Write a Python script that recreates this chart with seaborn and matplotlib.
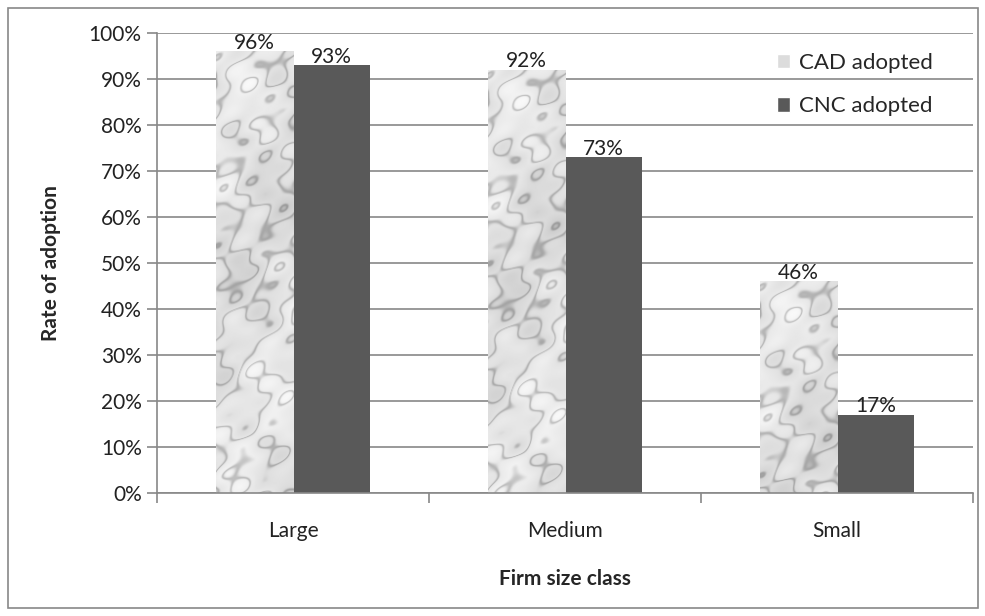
import numpy as np
import pandas as pd
import matplotlib
matplotlib.use("Agg")
import matplotlib.pyplot as plt
import seaborn as sns
from matplotlib.patches import Rectangle

# data
sizes = ["Large", "Medium", "Small"]
cad = [96, 92, 46]
cnc = [93, 73, 17]
series = ["CAD adopted", "CNC adopted"]

df = pd.DataFrame({
    "size": sizes * 2,
    "rate": cad + cnc,
    "series": [series[0]] * 3 + [series[1]] * 3,
})

sns.set_theme(style="white")
plt.rcParams["font.family"] = ["Lato", "DejaVu Sans"]
FS = 15

fig = plt.figure(figsize=(9.85, 6.16), dpi=100)
ax = fig.add_axes([157 / 985, 1 - 493 / 616, (973 - 157) / 985, (493 - 33) / 616])

sns.barplot(data=df, x="size", y="rate", hue="series",
            palette=["#e2e2e2", "#595959"], width=0.567, saturation=1,
            edgecolor="none", ax=ax, legend=False)

# soft marble texture for the CAD bars (decoration only)
yy, xx = np.mgrid[0:460, 0:80] / 40.0
cloud = (np.sin(xx * 1.3 + yy * 0.7) + 0.7 * np.sin(xx * 2.9 - yy * 1.9 + 1.0)
         + 0.5 * np.sin(xx * 4.7 + yy * 3.3 + 2.0) + 0.4 * np.sin(yy * 6.1 - xx * 3.7)
         + 0.3 * np.sin(xx * 8.3 + yy * 7.1 + 0.5) + 0.25 * np.sin(yy * 11.3 + xx * 5.9))
vein = np.exp(-14 * np.sin(yy * 1.4 + xx * 1.6 + 1.8 * cloud) ** 2)
marble = 0.89 + 0.03 * cloud - 0.2 * vein
for p in ax.patches[:3]:
    x0, w, h = p.get_x(), p.get_width(), p.get_height()
    im = ax.imshow(marble[:int(h * 4.6) + 2], cmap="gray", vmin=0, vmax=1, aspect="auto",
                   extent=[x0, x0 + w, 0, h], interpolation="bilinear", zorder=2)
    im.set_clip_path(p)

for c in ax.containers:
    ax.bar_label(c, labels=[f"{v:.0f}%" for v in c.datavalues], fontsize=FS,
                 padding=-1, color="#222222")

ax.set_xlim(-0.5, 2.5)
ax.set_ylim(0, 100)
ax.set_yticks(range(0, 101, 10))
ax.set_yticklabels([f"{v}%" for v in range(0, 101, 10)], fontsize=FS, color="#222222")
ax.tick_params(axis="x", labelsize=FS, labelcolor="#222222", length=0, pad=20)
ax.set_xticks([-0.5, 0.5, 1.5, 2.5], minor=True)
ax.tick_params(axis="x", which="minor", length=7, direction="out", color="#888888",
               width=1.2, bottom=True)
ax.tick_params(axis="y", length=7, direction="out", color="#888888", width=1.2,
               left=True, pad=4)
ax.grid(axis="y", color="#888888", linewidth=1.2)
ax.set_axisbelow(True)
for s in ["top", "right"]:
    ax.spines[s].set_visible(False)
for s in ["left", "bottom"]:
    ax.spines[s].set_color("#888888")
    ax.spines[s].set_linewidth(1.2)

ax.set_xlabel("Firm size class", fontsize=FS, fontweight="bold", labelpad=20)
ax.set_ylabel("Rate of adoption", fontsize=FS, fontweight="bold", labelpad=20)

handles = [Rectangle((0, 0), 1, 1, facecolor="#dcdcdc"),
           Rectangle((0, 0), 1, 1, facecolor="#595959")]
fig.legend(handles, series, loc="upper left", bbox_to_anchor=(757 / 985, 1 - 33 / 616),
           frameon=False, fontsize=FS + 1, handlelength=0.6, handleheight=0.6,
           handletextpad=0.4, labelspacing=1.05)

# outer chart border
fig.patches.append(Rectangle((8 / 985, 8 / 616), 970 / 985, 600 / 616, transform=fig.transFigure,
                             fill=False, edgecolor="#888888", linewidth=1.2))

fig.savefig("out.png", dpi=100)
